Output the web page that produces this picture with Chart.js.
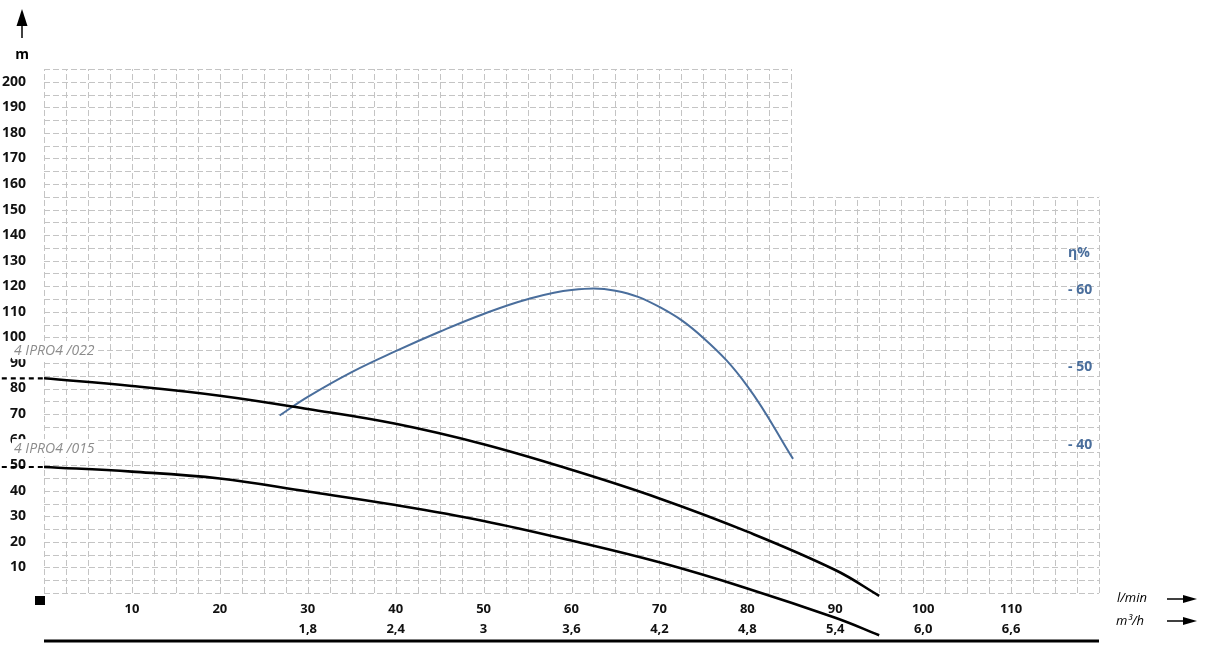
<!DOCTYPE html>
<html>
<head>
<meta charset="utf-8">
<title>4 IPRO4 pump curves</title>
<script src="https://cdn.jsdelivr.net/npm/chart.js@4.4.1/dist/chart.umd.min.js"></script>
<style>
    html, body { margin: 0; padding: 0; background: #fff; }
    #wrap { position: relative; width: 1205px; height: 649px; }
</style>
</head>
<body>
<div id="wrap"><canvas id="pumpChart"></canvas></div>
<script>
// Axis ticks
const flowTicks = [10, 20, 30, 40, 50, 60, 70, 80, 90, 100, 110];
const m3hLabels = ['', '', '1,8', '2,4', '3', '3,6', '4,2', '4,8', '5,4', '6,0', '6,6'];
const headTicks = [10, 20, 30, 40, 50, 60, 70, 80, 90, 100, 110, 120, 130, 140, 150, 160, 170, 180, 190, 200];
const effTicks = [40, 50, 60];

// Pump curves (flow in l/min, head in m)
const curveNames = ['4 IPRO4 /022', '4 IPRO4 /015'];
const flowPoints = [0, 10, 20, 30, 40, 50, 60, 70, 80, 90, 95];
const head022 = [84, 81, 77.2, 72, 66.2, 58.2, 48.2, 37, 24, 9, -1.1];
const head015 = [49.3, 47.5, 44.8, 39.7, 34.4, 28.2, 20.5, 12, 1.8, -9.7, -16.5];

// Efficiency curve (flow in l/min, efficiency in %)
const effFlow = [26.8, 30, 35, 40, 45, 50, 55, 60, 65, 70, 75, 80, 85.2];
const effValues = [43.8, 46.2, 49.4, 52.1, 54.6, 56.9, 58.8, 60.0, 59.9, 57.8, 53.8, 47.6, 38.2];

// Grid extent: full height up to 85 l/min, lower block up to 120 l/min
const FLOW_MAX = 120;
const HEAD_MAX = 205;
const UPPER_GRID_FLOW = 85;
const LOWER_GRID_HEAD = 155;

const EFF_BLUE = '#4a6e9c';

function toPoints(xs, ys) {
    return xs.map((x, i) => ({ x: x, y: ys[i] }));
}

// Dashed L-shaped grid drawn from the scales
const gridPlugin = {
    id: 'pumpGrid',
    beforeDatasetsDraw(chart) {
        const { ctx, scales: { x, y } } = chart;
        ctx.save();
        ctx.strokeStyle = '#c4c4c4';
        ctx.lineWidth = 1;
        ctx.setLineDash([6, 3]);

        for (let q = 0; q <= FLOW_MAX; q += 2.5) {
            const top = q <= UPPER_GRID_FLOW ? HEAD_MAX : LOWER_GRID_HEAD;
            const px = Math.round(x.getPixelForValue(q)) + 0.5;
            ctx.beginPath();
            ctx.moveTo(px, y.getPixelForValue(0));
            ctx.lineTo(px, y.getPixelForValue(top));
            ctx.stroke();
        }
        for (let h = 0; h <= HEAD_MAX; h += 5) {
            const right = h <= LOWER_GRID_HEAD ? FLOW_MAX : UPPER_GRID_FLOW;
            const py = Math.round(y.getPixelForValue(h)) + 0.5;
            ctx.beginPath();
            ctx.moveTo(x.getPixelForValue(0), py);
            ctx.lineTo(x.getPixelForValue(right), py);
            ctx.stroke();
        }
        ctx.restore();
    }
};

function arrowRight(ctx, x0, x1, yy) {
    ctx.beginPath();
    ctx.moveTo(x0, yy);
    ctx.lineTo(x1 - 10, yy);
    ctx.stroke();
    ctx.beginPath();
    ctx.moveTo(x1, yy);
    ctx.lineTo(x1 - 14, yy - 4);
    ctx.lineTo(x1 - 14, yy + 4);
    ctx.closePath();
    ctx.fill();
}

// Labels, arrows and other decorations
const decorPlugin = {
    id: 'pumpDecor',
    afterDraw(chart) {
        const { ctx, chartArea, scales: { x, y, y2 } } = chart;
        ctx.save();

        // Curve name labels with white backing
        ctx.font = 'italic 14px "Open Sans", sans-serif';
        ctx.textAlign = 'left';
        ctx.textBaseline = 'middle';
        [94.8, 56.5].forEach((h, i) => {
            const py = y.getPixelForValue(h);
            const w = ctx.measureText(curveNames[i]).width;
            ctx.fillStyle = '#ffffff';
            ctx.fillRect(12, py - 9.5, w + 5, 18);
            ctx.fillStyle = '#8c8c8c';
            ctx.fillText(curveNames[i], 14, py);
        });

        // Efficiency axis labels
        ctx.fillStyle = EFF_BLUE;
        ctx.font = 'bold 14px "Open Sans", sans-serif';
        const effX = chartArea.right - 31;
        effTicks.forEach(v => {
            ctx.fillText('- ' + v, effX, y2.getPixelForValue(v));
        });
        ctx.fillText('η%', effX, y2.getPixelForValue(64.8));

        // Head axis unit and arrow
        ctx.fillStyle = '#000';
        ctx.strokeStyle = '#000';
        ctx.textAlign = 'center';
        ctx.fillText('m', 22, 55);
        ctx.lineWidth = 1.5;
        ctx.beginPath();
        ctx.moveTo(22, 38);
        ctx.lineTo(22, 22);
        ctx.stroke();
        ctx.beginPath();
        ctx.moveTo(22, 9);
        ctx.lineTo(16.5, 26);
        ctx.lineTo(27.5, 26);
        ctx.closePath();
        ctx.fill();

        // Origin square
        ctx.fillRect(chartArea.left - 9, chartArea.bottom + 3, 10, 9);

        // Flow units with arrows
        const row1 = chartArea.bottom + 5;
        const row2 = chartArea.bottom + 28;
        ctx.font = 'italic 13px "Open Sans", sans-serif';
        ctx.fillText('l/min', chartArea.right + 33, row1);
        ctx.fillText('m³/h', chartArea.right + 31, row2);
        ctx.lineWidth = 1.5;
        arrowRight(ctx, chartArea.right + 68, chartArea.right + 98, row1 + 1);
        arrowRight(ctx, chartArea.right + 68, chartArea.right + 98, row2);

        // Thick base line
        ctx.lineWidth = 3;
        ctx.beginPath();
        ctx.moveTo(x.getPixelForValue(0), chartArea.bottom + 48);
        ctx.lineTo(x.getPixelForValue(FLOW_MAX), chartArea.bottom + 48);
        ctx.stroke();

        ctx.restore();
    }
};

const ctx = document.getElementById('pumpChart').getContext('2d');

new Chart(ctx, {
    type: 'line',
    data: {
        datasets: [
            {
                label: curveNames[0],
                data: toPoints(flowPoints, head022),
                borderColor: '#000',
                borderWidth: 2.6,
                tension: 0.4,
                clip: false
            },
            {
                label: curveNames[0] + ' (shut-off)',
                data: [{ x: -4.8, y: head022[0] }, { x: 0, y: head022[0] }],
                borderColor: '#000',
                borderWidth: 2.2,
                borderDash: [5, 4],
                clip: false
            },
            {
                label: curveNames[1],
                data: toPoints(flowPoints, head015),
                borderColor: '#000',
                borderWidth: 2.6,
                tension: 0.4,
                clip: false
            },
            {
                label: curveNames[1] + ' (shut-off)',
                data: [{ x: -4.8, y: head015[0] }, { x: 0, y: head015[0] }],
                borderColor: '#000',
                borderWidth: 2.2,
                borderDash: [5, 4],
                clip: false
            },
            {
                label: 'η%',
                data: toPoints(effFlow, effValues),
                borderColor: EFF_BLUE,
                borderWidth: 2,
                tension: 0.4,
                yAxisID: 'y2',
                clip: false
            }
        ]
    },
    options: {
        responsive: true,
        maintainAspectRatio: false,
        animation: false,
        layout: {
            padding: { left: 0, right: 106, top: 69, bottom: 0 }
        },
        elements: {
            point: { radius: 0 },
            line: { fill: false }
        },
        plugins: {
            legend: { display: false },
            tooltip: { enabled: false }
        },
        scales: {
            x: {
                type: 'linear',
                min: 0,
                max: FLOW_MAX,
                grid: { display: false },
                border: { display: false },
                afterBuildTicks: axis => {
                    axis.ticks = flowTicks.map(v => ({ value: v }));
                },
                afterFit: axis => {
                    axis.height = 56;
                },
                ticks: {
                    autoSkip: false,
                    maxRotation: 0,
                    padding: -1,
                    color: '#111',
                    font: { family: '"Open Sans", sans-serif', size: 13, weight: 'bold', lineHeight: '19.5px' },
                    callback: (value, index) => [String(value), m3hLabels[index]]
                }
            },
            y: {
                type: 'linear',
                position: 'left',
                min: 0,
                max: HEAD_MAX,
                grid: { display: false },
                border: { display: false },
                afterBuildTicks: axis => {
                    axis.ticks = headTicks.map(v => ({ value: v }));
                },
                afterFit: axis => {
                    axis.width = 44;
                },
                ticks: {
                    padding: 10,
                    color: '#111',
                    font: { family: '"Open Sans", sans-serif', size: 14, weight: 'bold' }
                }
            },
            y2: {
                type: 'linear',
                position: 'right',
                display: false,
                min: 20.9,
                max: 88.5
            }
        }
    },
    plugins: [gridPlugin, decorPlugin]
});
</script>
</body>
</html>
